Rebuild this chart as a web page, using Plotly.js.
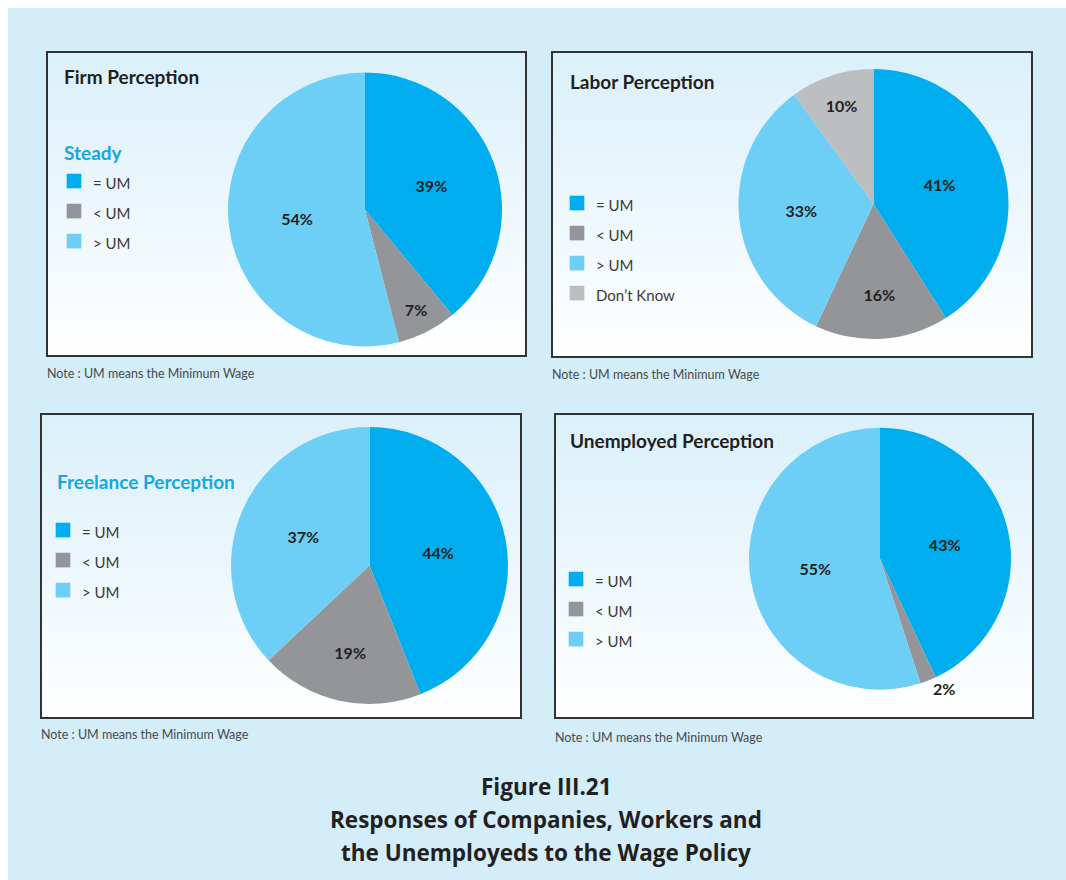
<!DOCTYPE html>
<html>
<head>
<meta charset="utf-8">
<script src="https://cdn.plot.ly/plotly-3.0.1.min.js"></script>
<style>
  html, body { margin:0; padding:0; background:#ffffff; }
  #wrap { position:relative; width:1066px; height:880px; overflow:hidden; background:#ffffff; }
  #bg { position:absolute; left:8px; top:8px; width:1058px; height:872px; background:#d3edf9; }
  .panel { position:absolute; background:linear-gradient(to bottom, #dbf0fa 0%, #eaf6fc 45%, #ffffff 100%); }
  #chart { position:absolute; left:0; top:0; width:1066px; height:880px; }
  #chart .legendpie { transform: translate(21px, 0px) scale(1.22); }
</style>
</head>
<body>
<div id="wrap">
  <div id="bg"></div>
  <div class="panel" style="left:47px;top:52px;width:479px;height:304px;"></div>
  <div class="panel" style="left:552px;top:52px;width:480px;height:305px;"></div>
  <div class="panel" style="left:41px;top:414px;width:480px;height:304px;"></div>
  <div class="panel" style="left:555px;top:414px;width:478px;height:304px;"></div>
  <div id="chart"></div>
</div>
<script>
// ---------- data ----------
const firmLabels = ["= UM", "< UM", "> UM"];
const firmValues = [39, 7, 54];

const laborLabels = ["= UM", "< UM", "> UM", "Don\u2019t Know"];
const laborValues = [41, 16, 33, 10];

const freelanceLabels = ["= UM", "< UM", "> UM"];
const freelanceValues = [44, 19, 37];

const unemployedLabels = ["= UM", "< UM", "> UM"];
const unemployedValues = [43, 2, 55];

const panelTitles = ["Firm Perception", "Labor Perception", "Freelance Perception", "Unemployed Perception"];
const subTitle = "Steady";
const noteText = "Note : UM means the Minimum Wage";
const captionLines = ["Figure III.21", "Responses of Companies, Workers and", "the Unemployeds to the Wage Policy"];

// ---------- styles ----------
const W = 1066, H = 880;
const px = x => x / W;
const py = y => 1 - y / H;
const COND = "Lato, 'Roboto', sans-serif";
const BOLD = "'Open Sans', 'Noto Sans', sans-serif";
const sliceColors = {"= UM": "#00adee", "< UM": "#939598", "> UM": "#6dcff6", "Don\u2019t Know": "#bcbec0"};
const BLUE = "#14a7e2";
const DARK = "#231f20";

// each panel gets its own legend; give the entries a panel-specific wrapper so
// identical labels in different pies are not merged into a single legend entry
function legendLabels(labels, k) {
  const sizes = ["15px", "15.0px", "15.00px", "15.000px"];
  return labels.map(l => '<span style="font-size:' + sizes[k] + '">' + l + '</span>');
}

function pieTrace(labels, values, k, cx, cy, r, legendId, textpos) {
  return {
    type: "pie",
    labels: legendLabels(labels, k),
    values: values,
    sort: false,
    direction: "clockwise",
    rotation: 0,
    marker: { colors: labels.map(l => sliceColors[l]), line: { width: 0 } },
    texttemplate: "%{value}%",
    textposition: textpos,
    insidetextorientation: "horizontal",
    textfont: { family: COND, size: 16, color: DARK, weight: "bold" },
    hoverinfo: "label+percent",
    domain: { x: [px(cx - r), px(cx + r)], y: [py(cy + r), py(cy - r)] },
    legend: legendId,
    showlegend: true
  };
}

const data = [
  pieTrace(firmLabels, firmValues, 0, 365, 209.5, 137, "legend", "inside"),
  pieTrace(laborLabels, laborValues, 1, 873.5, 204, 135, "legend2", "inside"),
  pieTrace(freelanceLabels, freelanceValues, 2, 369.5, 565.5, 138.5, "legend3", "inside"),
  pieTrace(unemployedLabels, unemployedValues, 3, 880, 558.7, 131, "legend4", ["inside", "outside", "inside"])
];

function legendCfg(x, yTop) {
  return {
    x: px(x), y: py(yTop), xanchor: "left", yanchor: "top",
    bgcolor: "rgba(0,0,0,0)", borderwidth: 0,
    font: { family: COND, size: 20.8, color: "#3a3a3a" },
    traceorder: "normal"
  };
}

function ann(text, x, y, opts) {
  return Object.assign({
    text: text, x: px(x), y: py(y), xref: "paper", yref: "paper",
    showarrow: false, xanchor: "left", yanchor: "middle"
  }, opts || {});
}

const titleFont = { family: COND, size: 19, color: DARK, weight: "bold" };
const blueFont = { family: COND, size: 19, color: BLUE, weight: "bold" };
const noteFont = { family: COND, size: 12.5, color: "#4a4a4c" };
const capFont = { family: BOLD, size: 22.5, color: DARK, weight: "bold" };

const annotations = [
  ann(panelTitles[0], 62, 76, { font: titleFont }),
  ann(subTitle, 62, 152, { font: blueFont }),
  ann(panelTitles[1], 568, 82, { font: titleFont }),
  ann(panelTitles[2], 55, 481, { font: blueFont }),
  ann(panelTitles[3], 568, 441, { font: titleFont }),
  ann(noteText, 45, 373, { font: noteFont }),
  ann(noteText, 550, 374, { font: noteFont }),
  ann(noteText, 39, 734, { font: noteFont }),
  ann(noteText, 553, 737, { font: noteFont }),
  ann(captionLines[0], 546, 786, { font: capFont, xanchor: "center" }),
  ann(captionLines[1], 546, 819, { font: capFont, xanchor: "center" }),
  ann(captionLines[2], 546, 852, { font: capFont, xanchor: "center" })
];

function box(x0, y0, x1, y1) {
  return { type: "rect", xref: "paper", yref: "paper", x0: px(x0), x1: px(x1), y0: py(y1), y1: py(y0),
           line: { color: "#333333", width: 2 }, fillcolor: "rgba(0,0,0,0)", layer: "above" };
}

const layout = {
  width: W, height: H,
  margin: { l: 0, r: 0, t: 0, b: 0, pad: 0 },
  paper_bgcolor: "rgba(0,0,0,0)",
  plot_bgcolor: "rgba(0,0,0,0)",
  showlegend: true,
  legend: legendCfg(53, 161),
  legend2: legendCfg(556, 183),
  legend3: legendCfg(42, 510),
  legend4: legendCfg(555, 559),
  annotations: annotations,
  shapes: [
    box(47, 52, 526, 356),
    box(552, 52, 1032, 357),
    box(41, 414, 521, 718),
    box(555, 414, 1033, 718)
  ]
};

Plotly.newPlot("chart", data, layout, { staticPlot: true, displayModeBar: false });
</script>
</body>
</html>
